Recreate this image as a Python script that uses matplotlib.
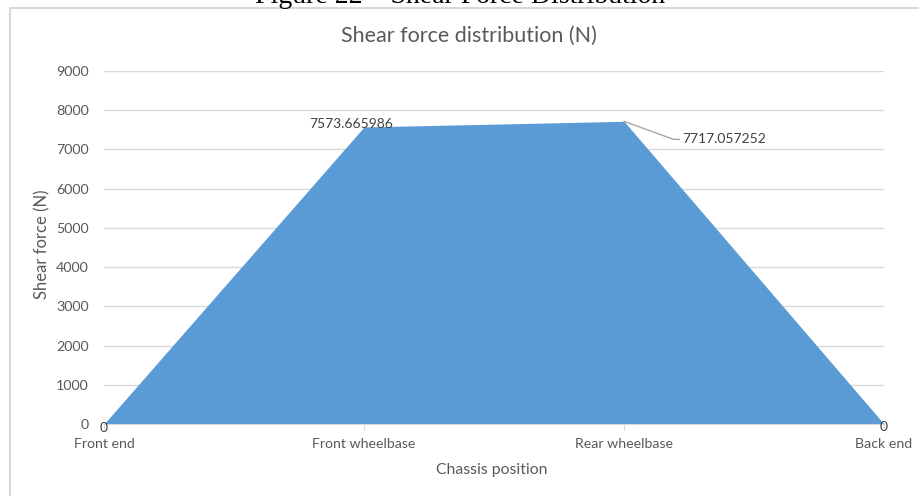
import matplotlib.pyplot as plt
from matplotlib.patches import Rectangle

positions = ["Front end", "Front wheelbase", "Rear wheelbase", "Back end"]
shear_force = [0, 7573.665986, 7717.057252, 0]
y_ticks = [0, 1000, 2000, 3000, 4000, 5000, 6000, 7000, 8000, 9000]

W, H = 920, 496
fig = plt.figure(figsize=(W / 100, H / 100), dpi=100)
fig.patch.set_facecolor("white")

txt = "#595959"
grid = "#D9D9D9"
font = ["Lato", "DejaVu Sans"]

# document caption, cut by the top edge
fig.text(0.5, 1 - 3 / H, "Figure 22 \u2013 Shear Force Distribution", ha="center",
         va="baseline", fontsize=20, family="Liberation Serif", color="black")

# chart frame
fig.add_artist(Rectangle((10 / W, -0.1), 1.2, 1 - 8 / H + 0.1, transform=fig.transFigure,
                         fill=False, edgecolor="#D9D9D9", linewidth=1.5))

ax = fig.add_axes([104 / W, 1 - 424 / H, (884 - 104) / W, (424 - 71) / H])
x = list(range(len(positions)))
ax.fill_between(x, shear_force, 0, color="#5B9BD5", linewidth=0, zorder=2)
ax.set_xlim(0, len(positions) - 1)
ax.set_ylim(0, 9000)
ax.set_yticks(y_ticks)
ax.set_yticklabels([str(v) for v in y_ticks], family=font, fontsize=10.3, color=txt)
ax.set_xticks(x)
ax.set_xticklabels(positions, family=font, fontsize=10.2, color=txt)
ax.grid(axis="y", color=grid, linewidth=1, zorder=0)
ax.tick_params(axis="y", length=0, pad=11)
ax.tick_params(axis="x", length=4, color=grid, pad=6)
for s in ["top", "right", "left"]:
    ax.spines[s].set_visible(False)
ax.spines["bottom"].set_color(grid)
ax.spines["bottom"].set_zorder(3)

fig.text(469 / W, 1 - 36 / H, "Shear force distribution (N)", ha="center", va="center",
         family=font, fontsize=15.5, color=txt)
fig.text(42 / W, 1 - 244 / H, "Shear force (N)", ha="center", va="center", rotation=90,
         family=font, fontsize=12, color=txt)
fig.text(492 / W, 1 - 470 / H, "Chassis position", ha="center", va="center",
         family=font, fontsize=11.3, color=txt)

# data labels
lab = dict(family=font, fontsize=10, color="#404040", zorder=5, annotation_clip=False)
ax.annotate(f"{shear_force[0]:g}", (x[0], shear_force[0]), xytext=(0, -3),
            textcoords="offset points", ha="center", va="center", **lab)
ax.annotate(f"{shear_force[3]:g}", (x[3], shear_force[3]), xytext=(0, -2),
            textcoords="offset points", ha="center", va="center", **lab)
ax.annotate(f"{shear_force[1]:.6f}", (x[1], shear_force[1]), xytext=(-9, 2),
            textcoords="offset points", ha="center", va="center", **lab)
ax.annotate(f"{shear_force[2]:.6f}", (x[2], shear_force[2]), xytext=(42, -13),
            textcoords="offset points", ha="left", va="center", **lab)
# leader line for the rear label
ax.annotate("", (x[2], shear_force[2]), xytext=(40, -13), textcoords="offset points",
            arrowprops=dict(arrowstyle="-", color="#A6A6A6", lw=1,
                            connectionstyle="angle,angleA=0,angleB=-20,rad=0",
                            shrinkA=0, shrinkB=0), annotation_clip=False)

fig.savefig("out.png", dpi=100)
